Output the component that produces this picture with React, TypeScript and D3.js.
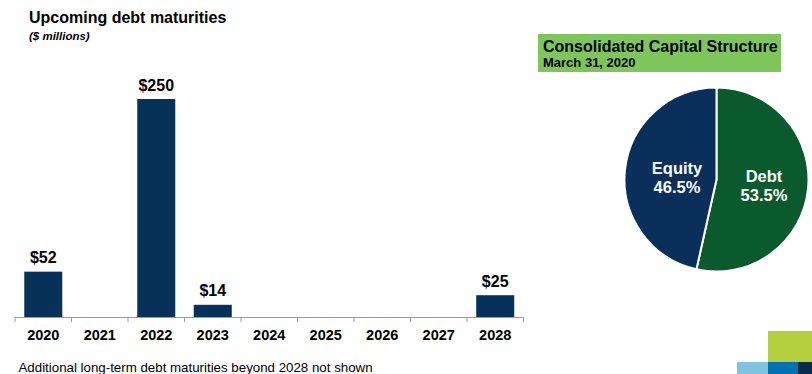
import * as d3 from "d3";
import { useEffect } from "react";

const years = ["2020", "2021", "2022", "2023", "2024", "2025", "2026", "2027", "2028"];
const maturities = [52, 0, 250, 14, 0, 0, 0, 0, 25];

const capLabels = ["Debt", "Equity"];
const capShares = [53.5, 46.5];

const W = 812;
const H = 374;
const FONT = "Arial, 'Liberation Sans', Helvetica, sans-serif";

export default function App() {
  useEffect(() => {
    document.body.style.margin = "0";
  }, []);

  const x0 = 15;
  const x1 = 523.5;
  const x = d3.scaleBand().domain(years).range([x0, x1]).paddingInner(0.327).paddingOuter(0.164);
  const y = d3.scaleLinear().domain([0, 250]).range([317, 99]);
  const step = (x1 - x0) / years.length;
  const ticks = d3.range(years.length + 1).map((i) => x0 + i * step);

  const pieData = d3
    .pie<number>()
    .sort(null)
    .startAngle(0)
    .endAngle(2 * Math.PI)(capShares);
  const arc = d3.arc<d3.PieArcDatum<number>>().innerRadius(0).outerRadius(92);
  const cx = 716.5;
  const cy = 179.5;
  const pieColors = ["#0b5a2d", "#0a2f5b"];
  const labelPos = [
    [47.5, 2.5],
    [-39.5, -5.5],
  ];

  return (
    <svg width={W} height={H} style={{ display: "block", fontFamily: FONT }}>
      <rect width={W} height={H} fill="#fff" />
      <text x={29} y={23} fontSize={16} fontWeight="bold" fill="#000">
        Upcoming debt maturities
      </text>
      <text x={29} y={40} fontSize={11.5} fontWeight="bold" fontStyle="italic" fill="#000">
        ($ millions)
      </text>

      {maturities.map((v, i) =>
        v > 0 ? (
          <g key={years[i]}>
            <rect
              x={x(years[i])!}
              y={y(v)}
              width={x.bandwidth()}
              height={y(0) - y(v)}
              fill="#06325a"
            />
            <text
              x={x(years[i])! + x.bandwidth() / 2}
              y={y(v) - 8.5}
              textAnchor="middle"
              fontSize={16}
              fontWeight="bold"
            >
              ${v}
            </text>
          </g>
        ) : null
      )}
      <line x1={x0} x2={x1} y1={317.5} y2={317.5} stroke="#9a9a9a" strokeWidth={1} />
      {ticks.map((t, i) => (
        <line key={i} x1={t} x2={t} y1={317} y2={322} stroke="#9a9a9a" />
      ))}
      {years.map((yr) => (
        <text
          key={yr}
          x={x(yr)! + x.bandwidth() / 2}
          y={340}
          textAnchor="middle"
          fontSize={14.5}
          fontWeight="bold"
        >
          {yr}
        </text>
      ))}
      <text x={18.5} y={371.5} fontSize={13.3} fill="#000">
        Additional long-term debt maturities beyond 2028 not shown
      </text>

      <rect x={538} y={34} width={243} height={38} fill="#7ec65a" />
      <text x={543} y={51.5} fontSize={16} fontWeight="bold">
        Consolidated Capital Structure
      </text>
      <text x={543} y={67} fontSize={13} fontWeight="bold">
        March 31, 2020
      </text>

      <g transform={`translate(${cx},${cy})`}>
        {pieData.map((d, i) => (
          <path key={capLabels[i]} d={arc(d)!} fill={pieColors[i]} stroke="#fff" strokeWidth={2} />
        ))}
        {pieData.map((d, i) => (
          <text
            key={capLabels[i] + "l"}
            x={labelPos[i][0]}
            y={labelPos[i][1]}
            textAnchor="middle"
            fontSize={16.5}
            fontWeight="bold"
            fill="#fff"
          >
            <tspan x={labelPos[i][0]} dy={0}>
              {capLabels[i]}
            </tspan>
            <tspan x={labelPos[i][0]} dy={18.5}>
              {d.data}%
            </tspan>
          </text>
        ))}
      </g>

      <rect x={768} y={331} width={44} height={31} fill="#b6cf3e" />
      <rect x={737} y={362} width={31} height={12} fill="#80c4e0" />
      <rect x={768} y={362} width={30} height={12} fill="#0072b4" />
      <rect x={798} y={362} width={14} height={12} fill="#0b2b4c" />
    </svg>
  );
}
